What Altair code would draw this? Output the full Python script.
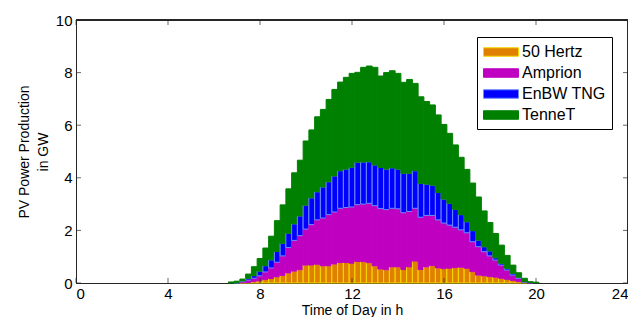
import altair as alt
import pandas as pd

# quarter-hour slots (bar centres, hours)
times = [6.75, 7.0, 7.25, 7.5, 7.75, 8.0, 8.25, 8.5, 8.75, 9.0, 9.25, 9.5, 9.75,
         10.0, 10.25, 10.5, 10.75, 11.0, 11.25, 11.5, 11.75, 12.0, 12.25, 12.5, 12.75,
         13.0, 13.25, 13.5, 13.75, 14.0, 14.25, 14.5, 14.75, 15.0, 15.25, 15.5, 15.75,
         16.0, 16.25, 16.5, 16.75, 17.0, 17.25, 17.5, 17.75, 18.0, 18.25, 18.5, 18.75,
         19.0, 19.25, 19.5, 19.75, 20.0]

hertz50 = [0, 0, 0.01, 0.02, 0.05, 0.08, 0.13, 0.17, 0.23, 0.29, 0.38, 0.45, 0.50,
           0.68, 0.68, 0.71, 0.65, 0.65, 0.72, 0.78, 0.78, 0.75, 0.82, 0.81, 0.77,
           0.65, 0.53, 0.50, 0.61, 0.61, 0.51, 0.61, 0.83, 0.51, 0.61, 0.66, 0.57,
           0.54, 0.56, 0.58, 0.60, 0.56, 0.43, 0.30, 0.27, 0.24, 0.22, 0.18, 0.14,
           0.10, 0.05, 0.02, 0, 0]

amprion = [0, 0, 0.04, 0.09, 0.13, 0.19, 0.29, 0.40, 0.56, 0.74, 0.97, 1.17, 1.30,
           1.37, 1.54, 1.69, 1.82, 1.95, 1.98, 2.06, 2.09, 2.14, 2.16, 2.19, 2.26,
           2.29, 2.30, 2.29, 2.23, 2.21, 2.16, 2.11, 2.01, 1.99, 1.96, 1.91, 1.83,
           1.74, 1.64, 1.54, 1.42, 1.35, 1.14, 1.08, 0.92, 0.79, 0.65, 0.50, 0.35,
           0.20, 0.13, 0.01, 0.01, 0]

enbw = [0, 0.01, 0.03, 0.07, 0.10, 0.18, 0.24, 0.31, 0.41, 0.48, 0.54, 0.63, 0.75,
        0.91, 1.02, 1.07, 1.18, 1.25, 1.37, 1.43, 1.46, 1.51, 1.61, 1.60, 1.58,
        1.55, 1.56, 1.54, 1.54, 1.51, 1.50, 1.45, 1.43, 1.29, 1.19, 1.15, 1.04,
        0.91, 0.83, 0.68, 0.58, 0.42, 0.42, 0.25, 0.19, 0.19, 0.09, 0.07, 0.07,
        0.07, 0.04, 0.02, 0.01, 0]

tennet = [0.04, 0.06, 0.07, 0.16, 0.34, 0.48, 0.67, 0.90, 1.17, 1.46, 1.69, 1.94, 2.12,
          2.44, 2.58, 2.85, 2.95, 3.13, 3.29, 3.37, 3.49, 3.57, 3.42, 3.60, 3.64,
          3.71, 3.48, 3.67, 3.69, 3.64, 3.46, 3.57, 3.32, 3.29, 3.14, 3.05, 2.95,
          2.84, 2.66, 2.45, 2.18, 1.99, 1.81, 1.64, 1.36, 1.08, 0.92, 0.69, 0.49,
          0.31, 0.17, 0.13, 0.03, 0.03]

series_names = ["50 Hertz", "Amprion", "EnBW TNG", "TenneT"]
fill_colors = ["#E08000", "#C000C0", "#0000FF", "#008000"]
edge_colors = ["#F5D800", "#C000C0", "#6A8CFF", "#008000"]

x_ticks = [0, 4, 8, 12, 16, 20, 24]
y_ticks = [0, 2, 4, 6, 8, 10]
x_min, x_max = 0, 24
y_min, y_max = 0, 10

half = 0.125
rows = []
for i, t in enumerate(times):
    base = 0.0
    for name, vals in zip(series_names, [hertz50, amprion, enbw, tennet]):
        v = vals[i]
        if v > 0:
            rows.append({"t0": t - half, "t1": t + half, "y0": base, "y1": base + v,
                         "series": name})
        base += v
df = pd.DataFrame(rows)
xt_df = pd.DataFrame({"xt": x_ticks})
yt_df = pd.DataFrame({"yt": y_ticks})

FONT = "Liberation Sans"
AXIS_COLOR = "#262626"

legend = alt.Legend(
    title=None,
    orient="none",
    legendX=401,
    legendY=17,
    strokeColor="black",
    fillColor="white",
    padding=6,
    symbolType="M-2.06,-0.5H2.06V0.5H-2.06Z",
    symbolSize=289,
    symbolOffset=9,
    symbolStrokeWidth=1,
    labelFontSize=16,
    labelFont=FONT,
    labelColor="black",
    labelOffset=12,
    rowPadding=4,
)

xscale = alt.Scale(domain=[x_min, x_max], nice=False)
yscale = alt.Scale(domain=[y_min, y_max], nice=False)

bars = alt.Chart(df).mark_bar(strokeWidth=1).encode(
    x=alt.X("t0:Q", scale=xscale,
            axis=alt.Axis(values=x_ticks, title="Time of Day in h", grid=False,
                          ticks=False, labelPadding=3, titlePadding=2,
                          labelFlush=True, labelFlushOffset=0,
                          labelFontSize=15, titleFontSize=14)),
    x2="t1:Q",
    y=alt.Y("y0:Q", scale=yscale,
            axis=alt.Axis(values=y_ticks, title=["PV Power Production", "in GW"],
                          grid=False, ticks=False, labelPadding=4, titlePadding=5,
                          labelFontSize=15, titleFontSize=14, titleLineHeight=19)),
    y2="y1:Q",
    fill=alt.Fill("series:N", scale=alt.Scale(domain=series_names, range=fill_colors),
                  legend=legend),
    stroke=alt.Stroke("series:N", scale=alt.Scale(domain=series_names, range=edge_colors),
                      legend=legend),
)

# frame lines on top and right (MATLAB "box on")
top_line = alt.Chart(xt_df).mark_rule(color=AXIS_COLOR, strokeWidth=1).encode(
    x=alt.datum(x_min, scale=xscale), x2=alt.datum(x_max), y=alt.datum(y_max, scale=yscale)
)
right_line = alt.Chart(yt_df).mark_rule(color=AXIS_COLOR, strokeWidth=1).encode(
    x=alt.datum(x_max, scale=xscale), y=alt.datum(y_min, scale=yscale), y2=alt.datum(y_max)
)

# inward tick marks
bottom_ticks = alt.Chart(xt_df).mark_tick(color=AXIS_COLOR, orient="vertical", size=5,
                                          thickness=1, yOffset=-2.5).encode(
    x=alt.X("xt:Q", scale=xscale), y=alt.datum(y_min, scale=yscale)
)
top_ticks = alt.Chart(xt_df).mark_tick(color=AXIS_COLOR, orient="vertical", size=5,
                                       thickness=1, yOffset=2.5).encode(
    x=alt.X("xt:Q", scale=xscale), y=alt.datum(y_max, scale=yscale)
)
left_ticks = alt.Chart(yt_df).mark_tick(color=AXIS_COLOR, orient="horizontal", size=5,
                                        thickness=1, xOffset=2.5).encode(
    y=alt.Y("yt:Q", scale=yscale), x=alt.datum(x_min, scale=xscale)
)
right_ticks = alt.Chart(yt_df).mark_tick(color=AXIS_COLOR, orient="horizontal", size=5,
                                         thickness=1, xOffset=-2.5).encode(
    y=alt.Y("yt:Q", scale=yscale), x=alt.datum(x_max, scale=xscale)
)

chart = alt.layer(
    bars, top_line, right_line, bottom_ticks, top_ticks, left_ticks, right_ticks
).properties(
    width=552,
    height=263,
    autosize=alt.AutoSizeParams(type="none"),
    padding={"left": 68, "top": 12, "right": 0, "bottom": 34},
).configure_view(
    stroke=AXIS_COLOR, strokeWidth=1
).configure_axis(
    labelFont=FONT, titleFont=FONT, labelColor="black", titleColor="black",
    titleFontWeight="normal", domainColor=AXIS_COLOR
)

chart.save("out.html", embed_options={"renderer": "svg", "actions": False})
